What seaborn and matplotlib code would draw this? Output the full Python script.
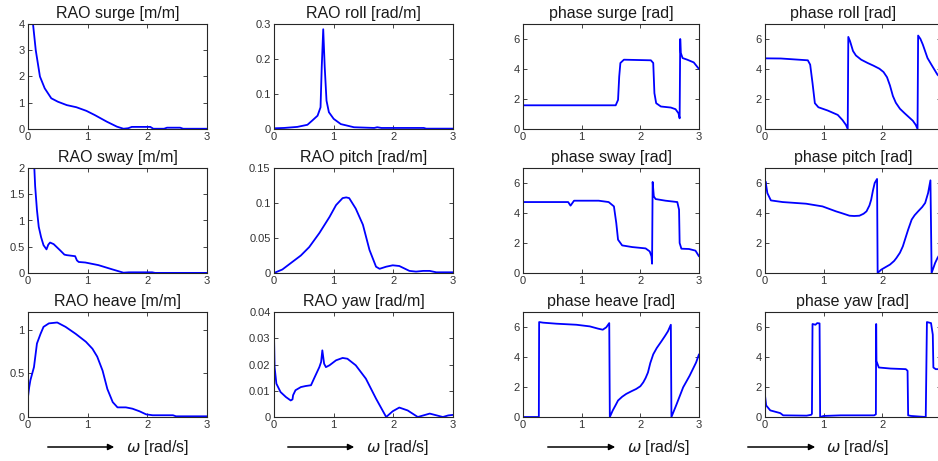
import matplotlib
matplotlib.use("Agg")
import matplotlib.pyplot as plt
import seaborn as sns
import numpy as np

# ---------------------------------------------------------------- data
# frequency (rad/s) and response values for each degree of freedom

rao_surge_w = [0.06, 0.084, 0.13, 0.2, 0.28, 0.39, 0.5, 0.65, 0.81, 0.98, 1.12, 1.32, 1.49, 1.6,
               1.68, 1.74, 2.05, 2.1, 2.28, 2.33, 2.55, 2.6, 3.0]
rao_surge = [4.8, 4.0, 3.0, 2.0, 1.55, 1.17, 1.04, 0.91, 0.83, 0.69, 0.53, 0.28, 0.09, 0.01,
             0.03, 0.08, 0.08, 0.01, 0.01, 0.05, 0.05, 0.01, 0.01]

rao_roll_w = [0.0, 0.17, 0.39, 0.56, 0.64, 0.73, 0.78, 0.80, 0.825, 0.85, 0.88, 0.92, 1.0,
              1.12, 1.34, 1.68, 1.73, 1.8, 2.12, 2.51, 2.55, 3.0]
rao_roll = [0.002, 0.003, 0.006, 0.012, 0.024, 0.038, 0.062, 0.177, 0.285, 0.177, 0.081,
            0.048, 0.029, 0.014, 0.005, 0.003, 0.005, 0.003, 0.003, 0.003, 0.001, 0.001]

rao_sway_w = [0.095, 0.106, 0.12, 0.15, 0.18, 0.22, 0.26, 0.31, 0.34, 0.37, 0.43, 0.54, 0.61,
              0.65, 0.79, 0.82, 0.85, 0.96, 1.18, 1.41, 1.6, 1.69, 2.08, 2.13, 3.0]
rao_sway = [2.3, 2.0, 1.65, 1.2, 0.88, 0.68, 0.53, 0.45, 0.54, 0.58, 0.55, 0.43, 0.35,
            0.34, 0.32, 0.24, 0.21, 0.2, 0.15, 0.07, 0.006, 0.013, 0.013, 0.002, 0.002]

rao_pitch_w = [0.0, 0.14, 0.31, 0.45, 0.59, 0.76, 0.93, 1.04, 1.15, 1.21, 1.26, 1.37, 1.49, 1.6,
               1.71, 1.77, 1.88, 1.99, 2.1, 2.27, 2.38, 2.5, 2.61, 2.72, 3.0]
rao_pitch = [0.0, 0.005, 0.016, 0.025, 0.037, 0.057, 0.080, 0.097, 0.107, 0.108, 0.107, 0.092,
             0.069, 0.033, 0.009, 0.006, 0.009, 0.011, 0.010, 0.003, 0.002, 0.003, 0.003,
             0.001, 0.001]

rao_heave_w = [0.0, 0.02, 0.04, 0.1, 0.15, 0.21, 0.26, 0.35, 0.49, 0.63, 0.8, 0.97, 1.08, 1.16,
               1.25, 1.33, 1.42, 1.5, 1.64, 1.75, 1.87, 1.98, 2.09, 2.43, 2.48, 3.0]
rao_heave = [0.23, 0.34, 0.42, 0.57, 0.84, 0.95, 1.03, 1.07, 1.08, 1.03, 0.95, 0.86, 0.78, 0.69,
             0.53, 0.32, 0.17, 0.11, 0.11, 0.095, 0.065, 0.03, 0.02, 0.02, 0.008, 0.008]

rao_yaw_w = [0.0, 0.01, 0.04, 0.11, 0.2, 0.28, 0.31, 0.32, 0.36, 0.45, 0.53, 0.62, 0.67, 0.76,
             0.79, 0.81, 0.84, 0.87, 0.93, 1.04, 1.15, 1.23, 1.37, 1.54, 1.71, 1.88, 1.99,
             2.1, 2.24, 2.41, 2.61, 2.83, 2.92, 3.0]
rao_yaw = [0.031, 0.019, 0.0127, 0.0095, 0.0076, 0.0063, 0.0067, 0.0083, 0.0102, 0.0114,
           0.0118, 0.0121, 0.0146, 0.019, 0.021, 0.0254, 0.0203, 0.019, 0.0197, 0.0216,
           0.0225, 0.0222, 0.0197, 0.0146, 0.007, 0.0, 0.0022, 0.0036, 0.0025, 0.0, 0.0013,
           0.0, 0.0006, 0.0008]

phase_surge_w = [0.0, 1.58, 1.62, 1.64, 1.66, 1.72, 2.18, 2.22, 2.24, 2.27, 2.35, 2.52, 2.6,
                 2.65, 2.67, 2.68, 2.69, 2.72, 2.8, 2.91, 3.0]
phase_surge = [1.58, 1.58, 1.94, 3.5, 4.4, 4.62, 4.58, 4.4, 2.39, 1.72, 1.5, 1.43, 1.32,
               1.05, 0.71, 6.0, 5.07, 4.73, 4.62, 4.44, 4.0]

phase_roll_w = [0.0, 0.27, 0.73, 0.77, 0.81, 0.85, 0.91, 1.07, 1.24, 1.32, 1.38, 1.41, 1.42,
                1.45, 1.5, 1.55, 1.64, 1.75, 1.85, 1.95, 2.02, 2.08, 2.13, 2.18, 2.23, 2.3,
                2.38, 2.45, 2.52, 2.57, 2.6, 2.61, 2.65, 2.69, 2.77, 2.85, 2.94, 3.0]
phase_roll = [4.71, 4.70, 4.58, 4.29, 3.06, 1.72, 1.45, 1.23, 0.94, 0.6, 0.27, 0.0, 6.14,
              5.85, 5.2, 4.9, 4.62, 4.4, 4.22, 4.02, 3.8, 3.45, 2.9, 2.2, 1.75, 1.35,
              1.05, 0.8, 0.55, 0.27, 0.0, 6.23, 6.0, 5.63, 4.73, 4.2, 3.62, 3.4]

phase_sway_w = [0.0, 0.77, 0.81, 0.87, 1.29, 1.46, 1.55, 1.59, 1.62, 1.69, 1.86, 2.09, 2.16,
                2.19, 2.2, 2.21, 2.23, 2.26, 2.43, 2.63, 2.66, 2.67, 2.7, 2.83, 2.94, 3.0]
phase_sway = [4.73, 4.73, 4.49, 4.82, 4.82, 4.73, 4.44, 3.33, 2.22, 1.84, 1.73, 1.64, 1.44,
              1.11, 0.62, 6.07, 5.11, 4.93, 4.82, 4.73, 4.22, 2.0, 1.62, 1.6, 1.49, 1.11]

phase_pitch_w = [0.0, 0.01, 0.04, 0.1, 0.3, 0.7, 0.98, 1.21, 1.3, 1.44, 1.52, 1.61, 1.68,
                 1.73, 1.78, 1.81, 1.84, 1.87, 1.91, 1.92, 1.98, 2.05, 2.13, 2.2, 2.24, 2.3,
                 2.35, 2.4, 2.44, 2.5, 2.55, 2.61, 2.68, 2.73, 2.78, 2.82, 2.84, 2.9, 2.94,
                 3.0]
phase_pitch = [6.0, 6.1, 5.33, 4.84, 4.73, 4.62, 4.44, 4.11, 4.0, 3.82, 3.8, 3.82, 3.95,
               4.11, 4.5, 4.89, 5.5, 6.0, 6.27, 0.0, 0.22, 0.38, 0.56, 0.8, 1.0, 1.35,
               1.78, 2.4, 2.89, 3.56, 3.85, 4.11, 4.4, 4.67, 5.33, 6.18, 0.0, 0.67, 1.0,
               1.4]

phase_heave_w = [0.0, 0.27, 0.275, 0.34, 0.57, 0.91, 1.14, 1.28, 1.36, 1.42, 1.47, 1.48, 1.53,
                 1.58, 1.62, 1.69, 1.76, 1.85, 1.93, 2.0, 2.05, 2.09, 2.13, 2.17, 2.22, 2.28,
                 2.36, 2.42, 2.47, 2.52, 2.53, 2.61, 2.73, 2.84, 2.95, 3.0]
phase_heave = [0.0, 0.0, 6.33, 6.29, 6.22, 6.15, 6.04, 5.89, 5.82, 5.98, 6.26, 0.0, 0.44,
               0.8, 1.1, 1.35, 1.54, 1.72, 1.87, 2.05, 2.31, 2.6, 2.97, 3.6, 4.18, 4.6,
               5.05, 5.4, 5.71, 6.15, 0.0, 0.77, 1.98, 2.75, 3.63, 4.18]

phase_yaw_w = [0.0, 0.02, 0.09, 0.26, 0.31, 0.71, 0.79, 0.80, 0.81, 0.86, 0.89, 0.93, 0.94,
               1.0, 1.29, 1.86, 1.89, 1.895, 1.90, 1.94, 2.14, 2.4, 2.43, 2.44, 2.49, 2.74,
               2.76, 2.83, 2.86, 2.87, 2.91, 3.0]
phase_yaw = [1.43, 0.77, 0.44, 0.26, 0.11, 0.09, 0.15, 0.22, 6.2, 6.15, 6.26, 6.24, 0.0,
             0.07, 0.11, 0.11, 0.18, 6.2, 3.73, 3.3, 3.23, 3.19, 3.08, 0.11, 0.07, 0.0,
             6.33, 6.26, 5.49, 3.3, 3.19, 3.19]

# panel titles, row by row
titles = ["RAO surge [m/m]", "RAO roll [rad/m]", "phase surge [rad]", "phase roll [rad]",
          "RAO sway [m/m]", "RAO pitch [rad/m]", "phase sway [rad]", "phase pitch [rad]",
          "RAO heave [m/m]", "RAO yaw [rad/m]", "phase heave [rad]", "phase yaw [rad]"]

series = [(rao_surge_w, rao_surge), (rao_roll_w, rao_roll),
          (phase_surge_w, phase_surge), (phase_roll_w, phase_roll),
          (rao_sway_w, rao_sway), (rao_pitch_w, rao_pitch),
          (phase_sway_w, phase_sway), (phase_pitch_w, phase_pitch),
          (rao_heave_w, rao_heave), (rao_yaw_w, rao_yaw),
          (phase_heave_w, phase_heave), (phase_yaw_w, phase_yaw)]

y_limits = [(0, 4), (0, 0.3), (0, 7), (0, 7),
            (0, 2), (0, 0.15), (0, 7), (0, 7),
            (0, 1.2), (0, 0.04), (0, 7), (0, 7)]
y_ticks = [[0, 1, 2, 3, 4], [0, 0.1, 0.2, 0.3], [0, 2, 4, 6], [0, 2, 4, 6],
           [0, 0.5, 1, 1.5, 2], [0, 0.05, 0.1, 0.15], [0, 2, 4, 6], [0, 2, 4, 6],
           [0, 0.5, 1], [0, 0.01, 0.02, 0.03, 0.04], [0, 2, 4, 6], [0, 2, 4, 6]]
x_ticks = [0, 1, 2, 3]

# ---------------------------------------------------------------- style
sns.set_theme(style="white")
plt.rcParams["font.family"] = ["Liberation Sans", "DejaVu Sans"]
plt.rcParams.update({
    "axes.edgecolor": "#262626",
    "axes.linewidth": 0.8,
    "xtick.direction": "in",
    "ytick.direction": "in",
    "xtick.major.size": 3,
    "ytick.major.size": 3,
    "xtick.major.width": 0.6,
    "ytick.major.width": 0.6,
    "xtick.color": "#262626",
    "ytick.color": "#262626",
    "xtick.labelcolor": "#333333",
    "ytick.labelcolor": "#333333",
    "xtick.labelsize": 8,
    "ytick.labelsize": 8,
    "xtick.major.pad": 2.5,
    "ytick.major.pad": 2.5,
    "mathtext.fontset": "dejavusans",
})

W, H = 938, 461
fig = plt.figure(figsize=(W / 100, H / 100), dpi=100)

# axes frames in pixels (left, top, width, height); the last column runs
# slightly past the right edge of the canvas
col_left = [28, 274, 523, 765]
col_width = [179, 179, 176, 176]
row_top = [24, 168, 312]
row_height = 105

for i, ((w, v), title) in enumerate(zip(series, titles)):
    r, c = divmod(i, 4)
    x0, y0 = col_left[c], row_top[r]
    ax = fig.add_axes([x0 / W, 1 - (y0 + row_height) / H, col_width[c] / W, row_height / H])
    sns.lineplot(x=w, y=v, ax=ax, color="#0000ff", linewidth=1.3,
                 sort=False, estimator=None)
    ax.set_xlim(0, 3)
    ax.set_ylim(*y_limits[i])
    ax.set_xticks(x_ticks)
    ax.set_yticks(y_ticks[i])
    ax.xaxis.set_major_formatter(matplotlib.ticker.FormatStrFormatter("%g"))
    ax.yaxis.set_major_formatter(matplotlib.ticker.FormatStrFormatter("%g"))
    ax.tick_params(top=True, right=True, bottom=True, left=True)
    tx = 0.445 if i == 3 else 0.5
    ax.set_title(title, fontsize=11.5, color="#1a1a1a", pad=4, x=tx)
    ax.set_xlabel("")
    ax.set_ylabel("")

# frequency axis label with arrow under each column
arrow_spans = [(45, 117), (285, 357), (545, 618), (745, 818)]
label_centers = [158, 398, 659, 858]
y_lab = 447
for (a0, a1), lc in zip(arrow_spans, label_centers):
    fig.patches.append(matplotlib.patches.FancyArrowPatch(
        (a0 / W, 1 - y_lab / H), (a1 / W, 1 - y_lab / H),
        transform=fig.transFigure, arrowstyle="-|>", mutation_scale=9,
        color="black", linewidth=1.1))
    fig.text(lc / W, 1 - y_lab / H, r"$\omega$ [rad/s]", fontsize=11.5,
             ha="center", va="center", color="#1a1a1a")

fig.savefig("out.png", dpi=100)
